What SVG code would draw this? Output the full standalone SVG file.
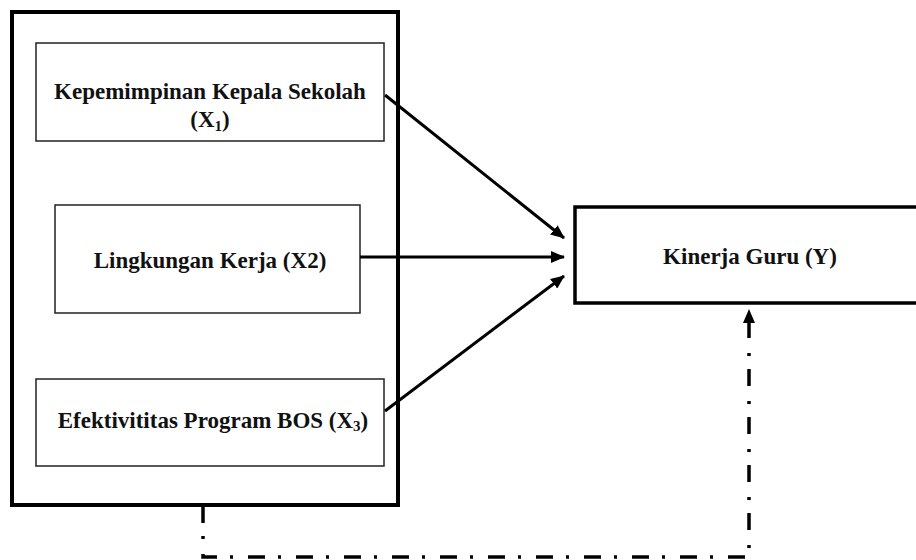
<svg xmlns="http://www.w3.org/2000/svg" width="916" height="560" viewBox="0 0 916 560">
<style>
text{font-family:"Liberation Serif","Times New Roman",serif;font-weight:bold;font-size:23px;fill:#111;text-anchor:middle}
.inner{fill:#fff;stroke:#222;stroke-width:1.5}
.outer{fill:none;stroke:#000;stroke-width:4}
.thick{fill:#fff;stroke:#000;stroke-width:3.5}
.arrow{stroke:#000;stroke-width:3;fill:none;marker-end:url(#ah)}
.dd{stroke:#000;stroke-width:3.5;fill:none;stroke-dasharray:17 13 3 15;marker-end:url(#ah)}
</style>
<defs>
<marker id="ah" markerUnits="userSpaceOnUse" markerWidth="14" markerHeight="12" refX="13" refY="6" orient="auto">
<path d="M0,0 L14,6 L0,12 Z" fill="#000"/>
</marker>
</defs>
<rect width="916" height="560" fill="#fff"/>
<g id="group-x">
<rect class="outer" x="12" y="12" width="386" height="493"/>
</g>
<g id="x1">
<rect class="inner" x="36" y="43" width="348" height="98"/>
<text x="210" y="99">Kepemimpinan Kepala Sekolah</text>
<text x="210" y="127">(X<tspan font-size="15" dy="4">1</tspan><tspan dy="-4">)</tspan></text>
</g>
<g id="x2">
<rect class="inner" x="55" y="205" width="305" height="108"/>
<text x="210" y="268">Lingkungan Kerja (X2)</text>
</g>
<g id="x3">
<rect class="inner" x="36" y="379" width="348" height="87"/>
<text x="213" y="428">Efektivititas Program BOS (X<tspan font-size="15" dy="3">3</tspan><tspan dy="-3">)</tspan></text>
</g>
<g id="y">
<rect class="thick" x="575" y="207" width="360" height="96"/>
<text x="750" y="264">Kinerja Guru (Y)</text>
</g>
<g id="connectors">
<line class="arrow" x1="385" y1="95" x2="564" y2="238"/>
<line class="arrow" x1="360" y1="257" x2="564" y2="257"/>
<line class="arrow" x1="385" y1="411" x2="564" y2="276"/>
<path class="dd" d="M203,506 V557 H749 V310"/>
</g>
</svg>
